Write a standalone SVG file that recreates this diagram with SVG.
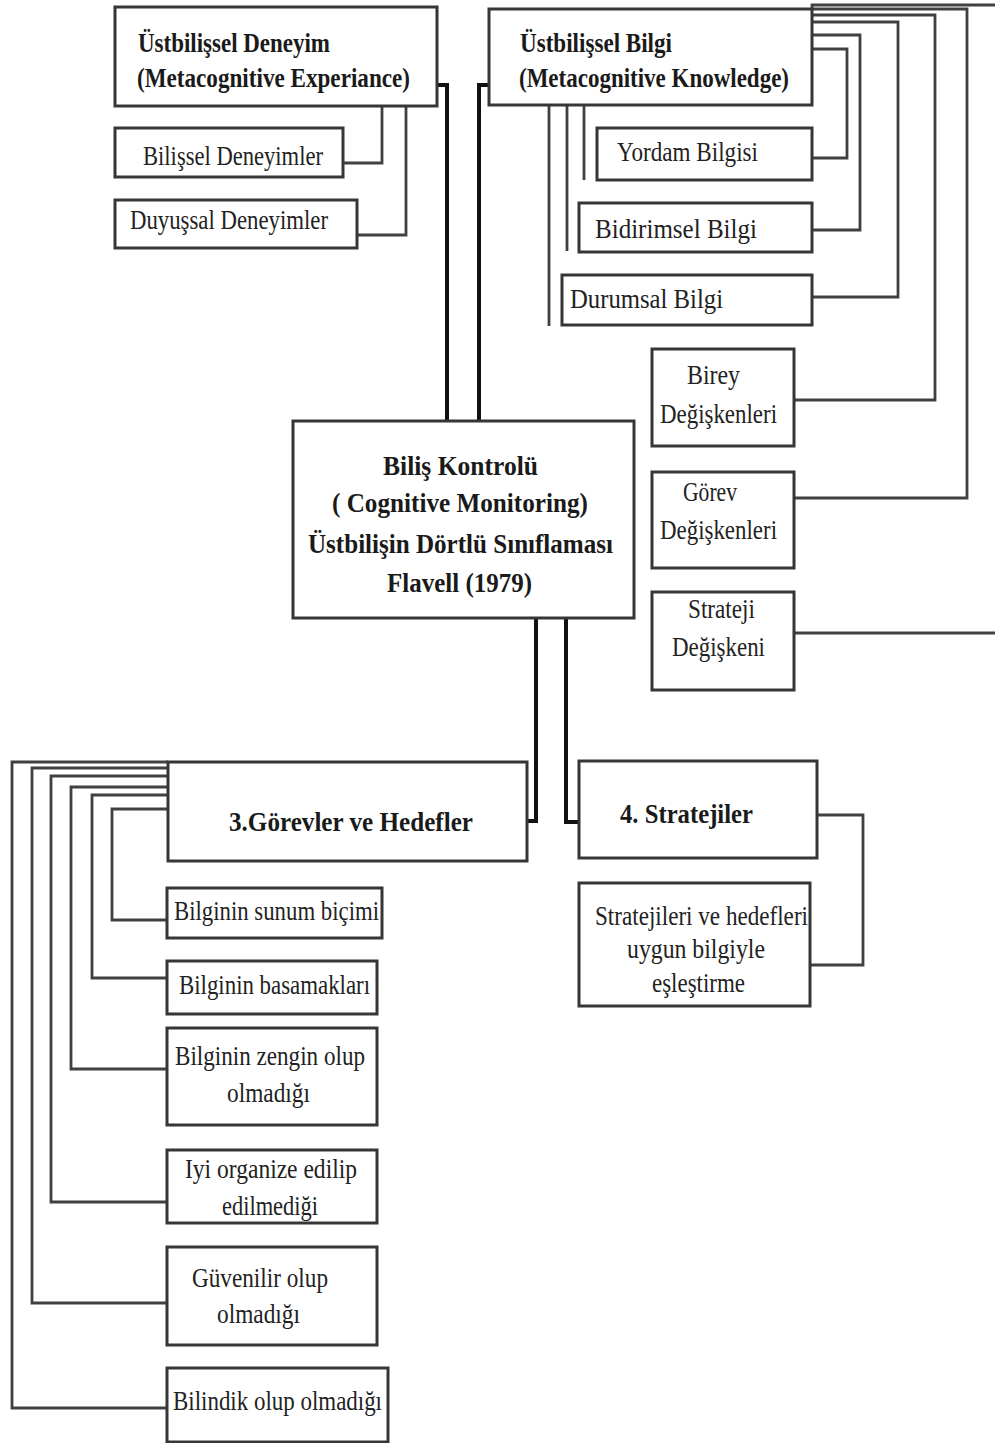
<svg xmlns="http://www.w3.org/2000/svg" width="995" height="1443" viewBox="0 0 995 1443">
  <style>
    .box { fill: #ffffff; stroke: #363636; stroke-width: 3; }
    .ln { fill: none; stroke: #404040; stroke-width: 2.8; }
    .main { fill: none; stroke: #111111; stroke-width: 4; }
    .t { font-family: "Liberation Serif", "Times New Roman", serif; font-size: 27px; fill: #222222; }
    .b { font-weight: bold; font-size: 28px; fill: #1a1a1a; }
  </style>
  <rect width="995" height="1443" fill="#ffffff"/>

  <!-- connectors -->
  <g id="connectors">
    <!-- central links -->
    <path class="main" d="M437,85 H447 V421"/>
    <path class="main" d="M489,85 H479 V421"/>
    <path class="main" d="M536,618 V821 H527"/>
    <path class="main" d="M566,618 V822 H579"/>
    <!-- metacognitive experience -->
    <path class="ln" d="M343,163 H382 V106"/>
    <path class="ln" d="M357,235 H406 V106"/>
    <!-- metacognitive knowledge -->
    <path class="ln" d="M812,158 H847 V49 H812"/>
    <path class="ln" d="M812,230 H860 V35 H812"/>
    <path class="ln" d="M812,297 H898 V22 H812"/>
    <path class="ln" d="M794,400 H935 V15 H812"/>
    <path class="ln" d="M794,498 H967 V9 H812"/>
    <path class="ln" d="M794,633 H997"/>
    <path class="ln" d="M812,9 V5 H997"/>
    <path class="ln" d="M549,105 V326"/>
    <path class="ln" d="M567,105 V251"/>
    <path class="ln" d="M584,105 V180"/>
    <!-- strategies -->
    <path class="ln" d="M817,815 H863 V965 H810"/>
    <!-- tasks and goals -->
    <path class="ln" d="M168,762 H12 V1408 H167"/>
    <path class="ln" d="M168,768 H32 V1303 H167"/>
    <path class="ln" d="M168,776 H51 V1202 H167"/>
    <path class="ln" d="M168,787 H71 V1069 H167"/>
    <path class="ln" d="M168,795 H92 V978 H167"/>
    <path class="ln" d="M168,809 H112 V920 H167"/>
  </g>

  <g id="deneyim">
    <rect class="box" x="115" y="7" width="322" height="99"/>
    <text class="t b" x="138" y="52" textLength="192" lengthAdjust="spacingAndGlyphs">Üstbilişsel Deneyim</text>
    <text class="t b" x="137" y="87" textLength="273" lengthAdjust="spacingAndGlyphs">(Metacognitive Experiance)</text>
  </g>
  <g id="bilissel-deneyimler">
    <rect class="box" x="115" y="128" width="228" height="49"/>
    <text class="t" x="143" y="165" textLength="180" lengthAdjust="spacingAndGlyphs">Bilişsel Deneyimler</text>
  </g>
  <g id="duyussal-deneyimler">
    <rect class="box" x="115" y="200" width="242" height="48"/>
    <text class="t" x="130" y="229" textLength="198" lengthAdjust="spacingAndGlyphs">Duyuşsal Deneyimler</text>
  </g>

  <g id="bilgi">
    <rect class="box" x="489" y="9" width="323" height="96"/>
    <text class="t b" x="520" y="52" textLength="152" lengthAdjust="spacingAndGlyphs">Üstbilişsel Bilgi</text>
    <text class="t b" x="519" y="87" textLength="270" lengthAdjust="spacingAndGlyphs">(Metacognitive Knowledge)</text>
  </g>
  <g id="yordam">
    <rect class="box" x="597" y="128" width="215" height="52"/>
    <text class="t" x="617" y="161" textLength="141" lengthAdjust="spacingAndGlyphs">Yordam Bilgisi</text>
  </g>
  <g id="bildirimsel">
    <rect class="box" x="579" y="203" width="233" height="49"/>
    <text class="t" x="595" y="238" textLength="162" lengthAdjust="spacingAndGlyphs">Bidirimsel Bilgi</text>
  </g>
  <g id="durumsal">
    <rect class="box" x="562" y="275" width="250" height="50"/>
    <text class="t" x="570" y="308" textLength="153" lengthAdjust="spacingAndGlyphs">Durumsal Bilgi</text>
  </g>
  <g id="birey">
    <rect class="box" x="652" y="349" width="142" height="97"/>
    <text class="t" x="687" y="384" textLength="53" lengthAdjust="spacingAndGlyphs">Birey</text>
    <text class="t" x="660" y="423" textLength="117" lengthAdjust="spacingAndGlyphs">Değişkenleri</text>
  </g>
  <g id="gorev">
    <rect class="box" x="652" y="472" width="142" height="96"/>
    <text class="t" x="683" y="501" textLength="54" lengthAdjust="spacingAndGlyphs">Görev</text>
    <text class="t" x="660" y="539" textLength="117" lengthAdjust="spacingAndGlyphs">Değişkenleri</text>
  </g>
  <g id="strateji-degiskeni">
    <rect class="box" x="652" y="592" width="142" height="98"/>
    <text class="t" x="688" y="618" textLength="67" lengthAdjust="spacingAndGlyphs">Strateji</text>
    <text class="t" x="672" y="656" textLength="93" lengthAdjust="spacingAndGlyphs">Değişkeni</text>
  </g>

  <g id="bilis-kontrolu">
    <rect class="box" x="293" y="421" width="341" height="197"/>
    <text class="t b" x="383" y="475" textLength="155" lengthAdjust="spacingAndGlyphs">Biliş Kontrolü</text>
    <text class="t b" x="332" y="512" textLength="256" lengthAdjust="spacingAndGlyphs">( Cognitive Monitoring)</text>
    <text class="t b" x="308" y="553" textLength="305" lengthAdjust="spacingAndGlyphs">Üstbilişin Dörtlü Sınıflaması</text>
    <text class="t b" x="387" y="592" textLength="145" lengthAdjust="spacingAndGlyphs">Flavell (1979)</text>
  </g>

  <g id="gorevler">
    <rect class="box" x="168" y="762" width="359" height="99"/>
    <text class="t b" x="229" y="831" textLength="244" lengthAdjust="spacingAndGlyphs">3.Görevler ve Hedefler</text>
  </g>
  <g id="stratejiler">
    <rect class="box" x="579" y="761" width="238" height="97"/>
    <text class="t b" x="620" y="823" textLength="133" lengthAdjust="spacingAndGlyphs">4. Stratejiler</text>
  </g>
  <g id="esleme">
    <rect class="box" x="579" y="883" width="231" height="123"/>
    <text class="t" x="595" y="925" textLength="213" lengthAdjust="spacingAndGlyphs">Stratejileri ve hedefleri</text>
    <text class="t" x="627" y="958" textLength="138" lengthAdjust="spacingAndGlyphs">uygun bilgiyle</text>
    <text class="t" x="652" y="992" textLength="93" lengthAdjust="spacingAndGlyphs">eşleştirme</text>
  </g>

  <g id="sunum">
    <rect class="box" x="167" y="888" width="215" height="50"/>
    <text class="t" x="174" y="920" textLength="205" lengthAdjust="spacingAndGlyphs">Bilginin sunum biçimi</text>
  </g>
  <g id="basamak">
    <rect class="box" x="167" y="961" width="210" height="53"/>
    <text class="t" x="179" y="994" textLength="191" lengthAdjust="spacingAndGlyphs">Bilginin basamakları</text>
  </g>
  <g id="zengin">
    <rect class="box" x="167" y="1028" width="210" height="97"/>
    <text class="t" x="175" y="1065" textLength="190" lengthAdjust="spacingAndGlyphs">Bilginin zengin olup</text>
    <text class="t" x="227" y="1102" textLength="83" lengthAdjust="spacingAndGlyphs">olmadığı</text>
  </g>
  <g id="organize">
    <rect class="box" x="167" y="1150" width="210" height="73"/>
    <text class="t" x="185" y="1178" textLength="172" lengthAdjust="spacingAndGlyphs">Iyi organize edilip</text>
    <text class="t" x="222" y="1215" textLength="96" lengthAdjust="spacingAndGlyphs">edilmediği</text>
  </g>
  <g id="guvenilir">
    <rect class="box" x="167" y="1247" width="210" height="98"/>
    <text class="t" x="192" y="1287" textLength="136" lengthAdjust="spacingAndGlyphs">Güvenilir olup</text>
    <text class="t" x="217" y="1323" textLength="83" lengthAdjust="spacingAndGlyphs">olmadığı</text>
  </g>
  <g id="bilindik">
    <rect class="box" x="167" y="1368" width="221" height="74"/>
    <text class="t" x="173" y="1410" textLength="209" lengthAdjust="spacingAndGlyphs">Bilindik olup olmadığı</text>
  </g>
</svg>
